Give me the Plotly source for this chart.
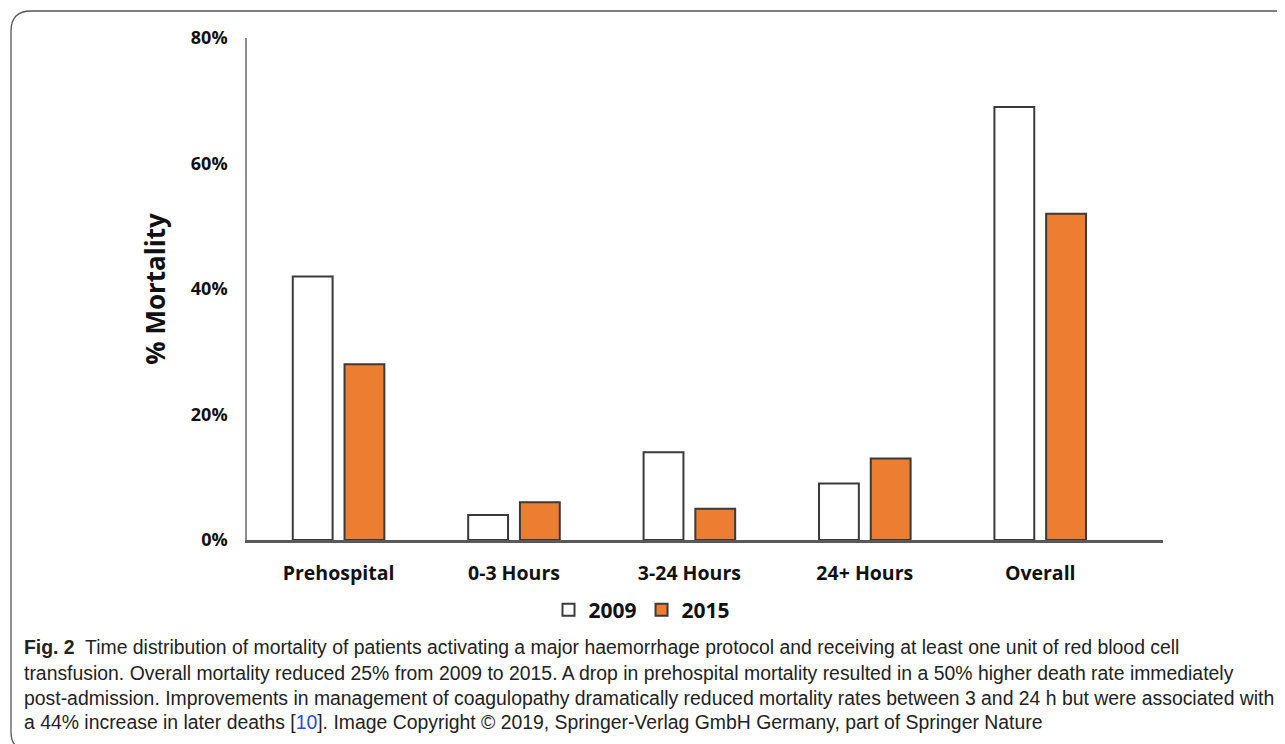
import plotly.graph_objects as go

categories = ["Prehospital", "0-3 Hours", "3-24 Hours", "24+ Hours", "Overall"]
mortality_2009 = [42, 4, 14, 9, 69]
mortality_2015 = [28, 6, 5, 13, 52]
series_names = ["2009", "2015"]
y_ticks = [0, 20, 40, 60, 80]
y_tick_labels = ["0%", "20%", "40%", "60%", "80%"]

caption_lines = [
    "<b>Fig. 2</b>  Time distribution of mortality of patients activating a major haemorrhage protocol and receiving at least one unit of red blood cell",
    "transfusion. Overall mortality reduced 25% from 2009 to 2015. A drop in prehospital mortality resulted in a 50% higher death rate immediately",
    "post-admission. Improvements in management of coagulopathy dramatically reduced mortality rates between 3 and 24 h but were associated with",
    "a 44% increase in later deaths [<span style='color:#1f4fd0'>10</span>]. Image Copyright © 2019, Springer-Verlag GmbH Germany, part of Springer Nature",
]

OFF = 8  # default page body margin
W, H = 1285 - OFF, 744 - OFF
# plot area in screenshot pixels
X0, X1, Y0, Y1 = 247, 1163, 38, 540
L, R, T = X0 - OFF, W - (X1 - OFF), Y0 - OFF
B = H - (Y1 - OFF)
PW, PH = X1 - X0, Y1 - Y0


def px(x):
    return (x - X0) / PW


def py(y):
    return (Y1 - y) / PH


fig = go.Figure()
fig.add_trace(go.Bar(
    x=categories, y=mortality_2009, name=series_names[0],
    marker=dict(color="white", line=dict(color="#3a3a3a", width=2)),
))
fig.add_trace(go.Bar(
    x=categories, y=mortality_2015, name=series_names[1],
    marker=dict(color="#ED7D31", line=dict(color="#3a3a3a", width=2)),
))

fig.update_layout(
    width=W, height=H,
    margin=dict(l=L, r=R, t=T, b=B, autoexpand=False),
    paper_bgcolor="white", plot_bgcolor="white",
    barmode="group", bargap=0.41, bargroupgap=0.23,
    font=dict(family="Open Sans", color="#111111"),
    showlegend=True,
    legend=dict(
        orientation="h", xanchor="center", yanchor="middle",
        x=px(642), y=py(610),
        font=dict(family="Open Sans", size=21, color="#111111", weight="bold"),
        itemsizing="constant", traceorder="normal",
        bgcolor="rgba(0,0,0,0)",
    ),
)

fig.update_xaxes(
    type="category", range=[-0.522, 4.70],
    showline=True, linecolor="#595959", linewidth=3,
    showgrid=False, ticks="", ticklabelstandoff=14,
    tickfont=dict(family="Open Sans", size=19.5, color="#111111", weight="bold"),
)
fig.update_yaxes(
    range=[0, 80], tickvals=y_ticks, ticktext=y_tick_labels,
    showline=True, linecolor="#8c8c8c", linewidth=1.5,
    showgrid=False, zeroline=False, ticks="", ticklabelstandoff=14,
    tickfont=dict(family="Open Sans", size=18, color="#111111", weight="bold"),
    title=dict(text="% Mortality", standoff=18,
               font=dict(family="Open Sans", size=26, color="#111111", weight="bold")),
)

# rounded frame (top + left edges of the figure panel)
frame = (
    f"M {px(1300)},{py(11)} L {px(31)},{py(11)} "
    f"Q {px(11)},{py(11)} {px(11)},{py(31)} "
    f"L {px(11)},{py(732)} Q {px(11)},{py(750)} {px(29)},{py(750)}"
)
fig.add_shape(type="path", path=frame, xref="paper", yref="paper",
              line=dict(color="#555555", width=1.3))

line_y = [647, 673, 698, 722]
for txt, yy in zip(caption_lines, line_y):
    fig.add_annotation(
        text=txt, xref="paper", yref="paper", x=px(22), y=py(yy),
        xanchor="left", yanchor="middle", showarrow=False,
        font=dict(family="Liberation Sans", size=19.4, color="#222222"),
    )

fig.write_html("out.html")
